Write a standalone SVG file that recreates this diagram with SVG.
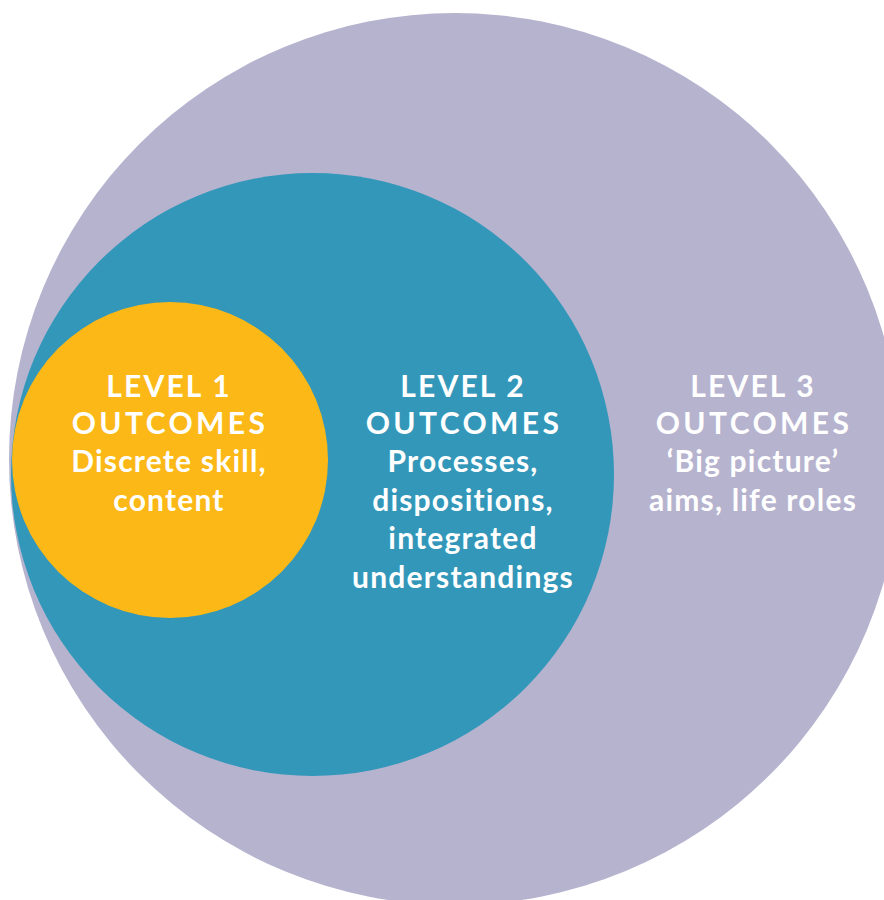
<svg xmlns="http://www.w3.org/2000/svg" width="884" height="900" viewBox="0 0 884 900">
<style>
.t{font-family:Lato,"Open Sans","Liberation Sans",sans-serif;font-weight:bold;font-size:30px;fill:#ffffff;text-anchor:middle;letter-spacing:1.2px}
.lv{letter-spacing:2.2px}
.oc{letter-spacing:3.4px}
</style>
<rect width="884" height="900" fill="#ffffff"/>
<g id="level3">
<circle cx="455" cy="459" r="446" fill="#B6B3CF"/>
<text class="t lv" x="753" y="397">LEVEL 3</text>
<text class="t oc" x="754" y="434">OUTCOMES</text>
<text class="t" x="753" y="472">‘Big picture’</text>
<text class="t" x="753" y="511">aims, life roles</text>
</g>
<g id="level2">
<circle cx="312.5" cy="474.5" r="301.5" fill="#3397BA"/>
<text class="t lv" x="463" y="397">LEVEL 2</text>
<text class="t oc" x="464" y="434">OUTCOMES</text>
<text class="t" x="463" y="472">Processes,</text>
<text class="t" x="463" y="511">dispositions,</text>
<text class="t" x="463" y="549">integrated</text>
<text class="t" x="463" y="588">understandings</text>
</g>
<g id="level1">
<circle cx="170" cy="460" r="158" fill="#FBB817"/>
<text class="t lv" x="169" y="397">LEVEL 1</text>
<text class="t oc" x="170" y="434">OUTCOMES</text>
<text class="t" x="169" y="472">Discrete skill,</text>
<text class="t" x="169" y="511">content</text>
</g>
<g id="connectors"/>
</svg>
